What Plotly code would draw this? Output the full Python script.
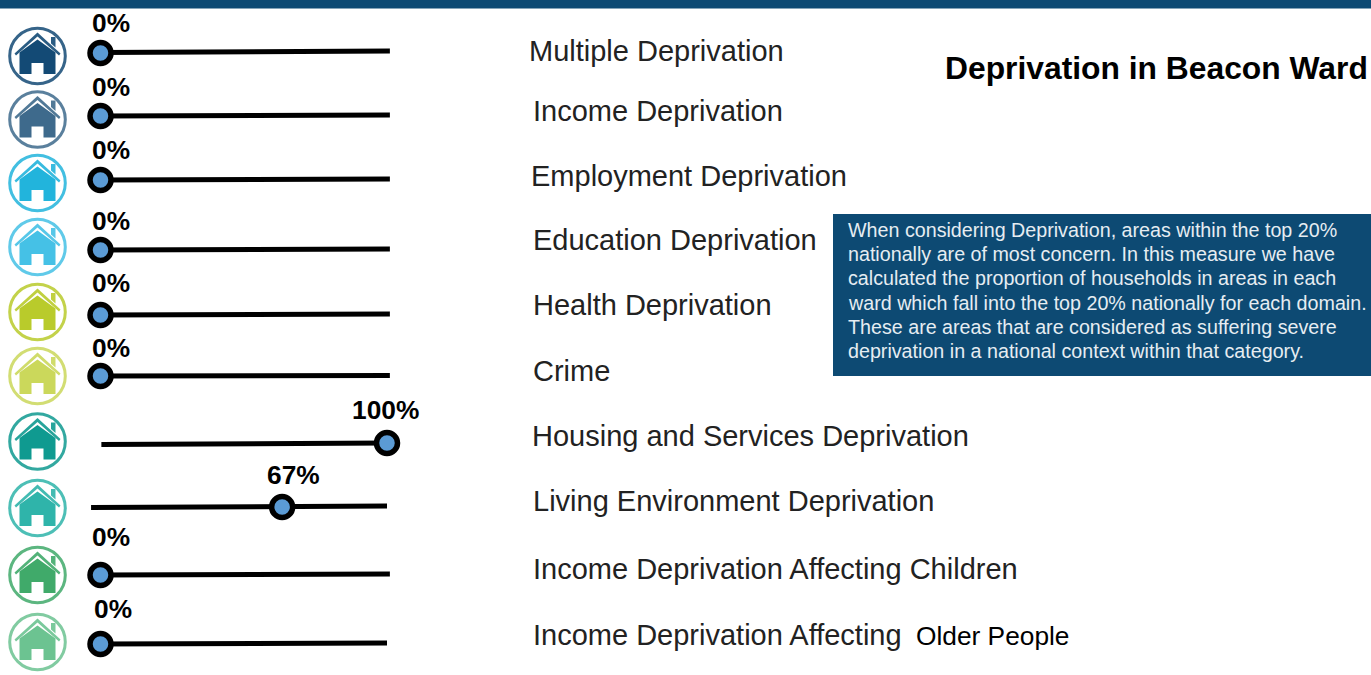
import plotly.graph_objects as go

# ---- data ----
categories = ["Multiple Deprivation", "Income Deprivation", "Employment Deprivation",
              "Education Deprivation", "Health Deprivation", "Crime",
              "Housing and Services Deprivation", "Living Environment Deprivation",
              "Income Deprivation Affecting Children", "Income Deprivation Affecting"]
last_label_tail = "Older People"
values = [0, 0, 0, 0, 0, 0, 100, 67, 0, 0]
# where the knob sits on the drawn slider scale
knob_position = [0, 0, 0, 0, 0, 0, 100, 63.4, 0, 0]
title = "Deprivation in Beacon Ward"
note_lines = ["When considering Deprivation, areas within the top 20%",
              "nationally are of most concern. In this measure we have",
              "calculated the proportion of households in areas in each",
              "ward which fall into the top 20% nationally for each domain.",
              "These are areas that are considered as suffering severe",
              "deprivation in a national context within that category."]

# ---- layout geometry and style ----
W, H = 1371, 675
PX0, PX100 = 100.5, 387          # pixel of 0 % and 100 %
scale = (PX100 - PX0) / 100
row_y = [53, 116, 180, 250, 315, 376, 443, 507, 575, 644]
track_start = [52.5, 116, 180, 250, 315, 376, 444.5, 507.5, 575, 644]
track_end = [51, 115, 179, 249, 314, 375.5, 443, 506, 574, 643]
track_left = [0, 0, 0, 0, 0, 0, 0.3, -3.3, 0, 0]
track_right = [101, 101, 101, 101, 101, 101, 100, 100, 101, 100]
pct_x = [111, 111, 111, 111, 111, 111, 385.5, 293.5, 111, 112.5]
pct_y = [23, 87, 150, 221, 283, 348, 410, 475, 537, 609]
icon_y = [56, 119.5, 183, 247, 312, 376, 441.5, 508, 575, 642]
icon_fill = ["#134a75", "#3e6a8c", "#22b4dc", "#45c1e6", "#b9cb2b", "#cbd85b",
             "#0f9a90", "#2fb4aa", "#40aa6a", "#6cc391"]
label_x = [527, 531, 529, 531, 531, 531, 530, 531, 531, 531]
label_y = [51, 111, 176, 240, 305, 371, 436, 501, 569, 635]
NAVY = "#0d4a73"
FONT = "Liberation Sans"

fig = go.Figure()

# slider tracks, then knobs: percent x axis, pixel-like y axis
for i, name in enumerate(categories):
    fig.add_trace(go.Scatter(
        x=[track_left[i], track_right[i]],
        y=[track_start[i], track_end[i]],
        mode="lines", line=dict(color="#000000", width=5),
        hoverinfo="skip", showlegend=False))
fig.add_trace(go.Scatter(
    x=knob_position, y=row_y, mode="markers",
    marker=dict(size=21, color="#5b9bd5", line=dict(color="#000000", width=5.5)),
    text=categories, customdata=values,
    hovertemplate="%{text}: %{customdata}%<extra></extra>", showlegend=False))

shapes = []
# top band and note box
shapes.append(dict(type="rect", xref="x2", yref="y", x0=0, x1=W, y0=0, y1=8.5,
                   fillcolor=NAVY, line_width=0, layer="below"))
shapes.append(dict(type="rect", xref="x2", yref="y", x0=833, x1=W, y0=214, y1=376,
                   fillcolor=NAVY, line_width=0, layer="below"))


def pts(cx, cy, offsets):
    return "M" + " L".join(f"{cx + a},{cy + b}" for a, b in offsets) + " Z"


ICON_X = 37.5
for cy, col in zip(icon_y, icon_fill):
    shapes.append(dict(type="circle", xref="x2", yref="y",
                       x0=ICON_X - 27.8, x1=ICON_X + 27.8, y0=cy - 27.8, y1=cy + 27.8,
                       fillcolor="rgba(0,0,0,0)", opacity=0.85,
                       line=dict(color=col, width=3)))
    # house body with door
    body = [(0, -16.5), (18, -3.5), (18, 18), (6, 18), (6, 7), (-6, 7), (-6, 18),
            (-18, 18), (-18, -3.5)]
    shapes.append(dict(type="path", xref="x2", yref="y", path=pts(ICON_X, cy, body),
                       fillcolor=col, line_width=0))
    # roof chevron
    roof = [(-23, -2.5), (0, -23.5), (23, -2.5), (21.5, -0.5), (0, -19.5), (-21.5, -0.5)]
    shapes.append(dict(type="path", xref="x2", yref="y", path=pts(ICON_X, cy, roof),
                       fillcolor=col, line_width=0, opacity=0.9))
    # chimney
    chimney = [(13.5, -19), (18, -19), (18, -8.5), (13.5, -12.5)]
    shapes.append(dict(type="path", xref="x2", yref="y", path=pts(ICON_X, cy, chimney),
                       fillcolor=col, line_width=0, opacity=0.9))

ann = []


def txt(x, y, s, size, color="#222222", bold=False, anchor="left"):
    ann.append(dict(x=x, y=y, xref="x2", yref="y", text=f"<b>{s}</b>" if bold else s,
                    xanchor=anchor, yanchor="middle", showarrow=False,
                    font=dict(family=FONT, size=size, color=color)))


for x, y, v in zip(pct_x, pct_y, values):
    txt(x, y, f"{v}%", 26.3, "#000000", True, "center")
for x, y, c in zip(label_x, label_y, categories):
    txt(x, y, c, 29)
txt(914, 636, last_label_tail, 26.3, "#000000")
txt(943, 68, title, 31.8, "#000000", True)
for j, line in enumerate(note_lines):
    txt(846, 230 + j * 24.2, line, 19.7, "#e6edf2")

fig.update_layout(
    width=W, height=H, autosize=False,
    margin=dict(l=0, r=0, t=0, b=0),
    paper_bgcolor="#ffffff", plot_bgcolor="#ffffff",
    showlegend=False, shapes=shapes, annotations=ann,
    xaxis=dict(range=[-PX0 / scale, (W - PX0) / scale], visible=False, fixedrange=True),
    xaxis2=dict(range=[0, W], visible=False, overlaying="x", fixedrange=True),
    yaxis=dict(range=[H, 0], visible=False, fixedrange=True),
)
fig.write_html("out.html", config=dict(displayModeBar=False),
               post_script="document.body.style.margin='0';")
